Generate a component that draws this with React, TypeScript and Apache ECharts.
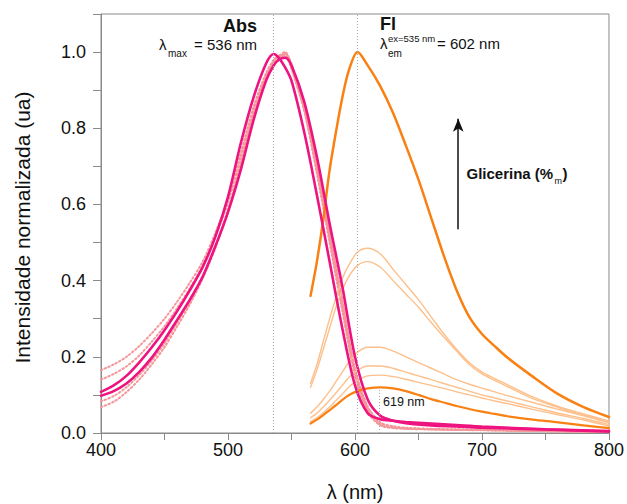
import React, { useEffect, useRef } from "react";
import * as echarts from "echarts";

// ---- Absorption spectra (normalized) ----
const absWavelengths = [400, 410, 420, 430, 440, 450, 460, 470, 480, 490, 500, 510, 520, 530, 536, 540, 545, 550, 560, 570, 580, 590, 600, 610, 620, 630, 640, 660, 680, 700, 750, 800];
const absSolidA = [0.108, 0.125, 0.15, 0.185, 0.225, 0.27, 0.32, 0.375, 0.435, 0.515, 0.62, 0.76, 0.88, 0.97, 0.995, 0.985, 0.96, 0.925, 0.79, 0.625, 0.45, 0.275, 0.125, 0.052, 0.036, 0.032, 0.029, 0.025, 0.021, 0.017, 0.01, 0.005];
const absSolidB = [0.098, 0.11, 0.13, 0.16, 0.198, 0.245, 0.297, 0.35, 0.41, 0.49, 0.58, 0.69, 0.82, 0.925, 0.965, 0.98, 0.985, 0.965, 0.87, 0.725, 0.55, 0.385, 0.2, 0.088, 0.045, 0.032, 0.026, 0.02, 0.017, 0.014, 0.009, 0.004];
const absDot1 = [0.165, 0.18, 0.2, 0.228, 0.262, 0.3, 0.345, 0.395, 0.45, 0.525, 0.615, 0.735, 0.855, 0.945, 0.98, 0.99, 0.995, 0.96, 0.85, 0.69, 0.51, 0.33, 0.16, 0.06, 0.022, 0.015, 0.012, 0.01, 0.009, 0.008, 0.005, 0.003];
const absDot2 = [0.14, 0.155, 0.175, 0.203, 0.24, 0.28, 0.328, 0.38, 0.44, 0.515, 0.605, 0.725, 0.85, 0.94, 0.975, 0.99, 0.99, 0.955, 0.845, 0.68, 0.5, 0.32, 0.15, 0.055, 0.02, 0.013, 0.011, 0.009, 0.008, 0.007, 0.005, 0.003];
const absDot3 = [0.083, 0.097, 0.12, 0.152, 0.19, 0.235, 0.29, 0.345, 0.41, 0.49, 0.585, 0.71, 0.84, 0.935, 0.975, 0.99, 1.0, 0.965, 0.855, 0.7, 0.52, 0.34, 0.165, 0.065, 0.025, 0.015, 0.012, 0.01, 0.009, 0.008, 0.005, 0.003];
const absDot4 = [0.068, 0.082, 0.107, 0.14, 0.18, 0.225, 0.28, 0.338, 0.405, 0.485, 0.58, 0.7, 0.83, 0.93, 0.97, 0.985, 0.995, 0.97, 0.86, 0.705, 0.53, 0.35, 0.17, 0.07, 0.028, 0.018, 0.014, 0.011, 0.009, 0.008, 0.005, 0.003];

// ---- Fluorescence spectra ----
const flWavelengths = [565, 570, 575, 580, 585, 590, 595, 602, 610, 620, 630, 640, 650, 660, 670, 680, 690, 700, 710, 720, 740, 760, 780, 800];
const flMain = [0.36, 0.45, 0.56, 0.69, 0.79, 0.88, 0.95, 1.0, 0.965, 0.91, 0.84, 0.755, 0.665, 0.565, 0.465, 0.375, 0.305, 0.26, 0.228, 0.198, 0.148, 0.102, 0.068, 0.042];
const flL1 = [0.13, 0.18, 0.24, 0.3, 0.355, 0.405, 0.44, 0.475, 0.485, 0.47, 0.43, 0.39, 0.35, 0.305, 0.26, 0.22, 0.185, 0.16, 0.143, 0.127, 0.095, 0.07, 0.05, 0.032];
const flL2 = [0.12, 0.165, 0.22, 0.275, 0.33, 0.375, 0.41, 0.44, 0.45, 0.435, 0.4, 0.365, 0.33, 0.29, 0.252, 0.215, 0.18, 0.155, 0.138, 0.122, 0.09, 0.067, 0.047, 0.03];
const flL3 = [0.052, 0.068, 0.088, 0.11, 0.135, 0.16, 0.185, 0.212, 0.225, 0.225, 0.215, 0.2, 0.185, 0.17, 0.155, 0.14, 0.128, 0.118, 0.108, 0.098, 0.08, 0.062, 0.045, 0.027];
const flL4 = [0.04, 0.052, 0.068, 0.086, 0.105, 0.125, 0.145, 0.165, 0.176, 0.176, 0.17, 0.16, 0.15, 0.14, 0.13, 0.12, 0.11, 0.1, 0.092, 0.084, 0.068, 0.052, 0.038, 0.022];
const flL5 = [0.03, 0.04, 0.053, 0.068, 0.085, 0.102, 0.12, 0.138, 0.15, 0.152, 0.148, 0.141, 0.133, 0.125, 0.117, 0.108, 0.1, 0.092, 0.084, 0.077, 0.062, 0.048, 0.034, 0.018];
const flLow = [0.025, 0.035, 0.047, 0.06, 0.073, 0.087, 0.099, 0.11, 0.117, 0.12, 0.117, 0.11, 0.1, 0.089, 0.08, 0.071, 0.063, 0.056, 0.05, 0.044, 0.035, 0.028, 0.02, 0.013];

// ---- Reference wavelengths ----
const absMax = 536;
const emMax = 602;
const lowPeak = 619;
const lowPeakValue = 0.118;
const arrowX = 681.3;
const arrowFrom = 0.535;
const arrowTo = 0.825;

const FONT = "'Liberation Sans', Arial, Helvetica, sans-serif";
const MAGENTA = "#EE1480";
const ORANGE = "#F98012";
const PEACH = "#FDC08C";
const SALMON = "#F5979A";
const FRAME = "#8a8a8a";

const zip = (xs: number[], ys: number[]) => xs.map((x, i) => [x, ys[i]]);

function lineSeries(name: string, xs: number[], ys: number[], color: string, width: number, type: any = "solid", z = 2): any {
  return {
    name,
    type: "line",
    data: zip(xs, ys),
    showSymbol: false,
    symbol: "none",
    smooth: 0.3,
    z,
    silent: true,
    lineStyle: { color, width, type, cap: "round" },
  };
}

export default function App() {
  const ref = useRef<HTMLDivElement>(null);
  useEffect(() => {
    const chart = echarts.init(ref.current!, null, { renderer: "svg" });
    const txt = (text: string, x: number, y: number, size: number, opts: any = {}) => ({
      type: "text",
      x,
      y,
      rotation: opts.rotation || 0,
      style: {
        text,
        fontFamily: FONT,
        fontSize: size,
        fontWeight: opts.bold ? "bold" : "normal",
        fill: "#111",
        align: opts.align || "left",
        verticalAlign: "middle",
      },
    });
    const dot1 = lineSeries("abs-d1", absWavelengths, absDot1, SALMON, 2, [1.5, 2.5], 1);
    dot1.markLine = {
      silent: true,
      symbol: ["none", "none"],
      label: { show: false },
      lineStyle: { color: "#a8a8a8", width: 1, type: [1, 2] },
      data: [
        { xAxis: absMax },
        { xAxis: emMax },
        [{ coord: [lowPeak, 0] }, { coord: [lowPeak, lowPeakValue] }],
      ],
    };
    const arrowHolder: any = {
      name: "arrow",
      type: "line",
      data: [],
      markLine: {
        silent: true,
        symbol: ["none", "arrow"],
        symbolSize: [8, 13],
        label: { show: false },
        lineStyle: { color: "#111", width: 1.5, type: "solid" },
        data: [[{ coord: [arrowX, arrowFrom] }, { coord: [arrowX, arrowTo] }]],
      },
    };
    const option: any = {
      animation: false,
      backgroundColor: "#fff",
      grid: { left: 101, top: 14, right: 18, bottom: 71, show: true, borderColor: FRAME, borderWidth: 1 },
      xAxis: {
        type: "value",
        min: 400,
        max: 800,
        interval: 50,
        axisLine: { show: true, lineStyle: { color: FRAME } },
        axisTick: { show: true, length: 7, lineStyle: { color: FRAME } },
        splitLine: { show: false },
        axisLabel: {
          margin: 8,
          fontFamily: FONT,
          fontSize: 18,
          color: "#111",
          formatter: (v: number) => (Math.round(v) % 100 === 0 ? String(Math.round(v)) : ""),
        },
      },
      yAxis: {
        type: "value",
        min: 0,
        max: 1.1,
        interval: 0.1,
        axisLine: { show: true, lineStyle: { color: FRAME } },
        axisTick: { show: true, length: 8, lineStyle: { color: FRAME } },
        splitLine: { show: false },
        axisLabel: {
          margin: 15,
          fontFamily: FONT,
          fontSize: 18,
          color: "#111",
          formatter: (v: number) => {
            const t = Math.round(v * 10);
            return t % 2 === 0 && t <= 10 ? (t / 10).toFixed(1) : "";
          },
        },
      },
      series: [
        dot1,
        lineSeries("abs-d2", absWavelengths, absDot2, SALMON, 2, [1.5, 2.5], 1),
        lineSeries("abs-d3", absWavelengths, absDot3, SALMON, 2, [1.5, 2.5], 1),
        lineSeries("abs-d4", absWavelengths, absDot4, SALMON, 2, [1.5, 2.5], 1),
        lineSeries("fl-l1", flWavelengths, flL1, PEACH, 1.4),
        lineSeries("fl-l2", flWavelengths, flL2, PEACH, 1.4),
        lineSeries("fl-l3", flWavelengths, flL3, PEACH, 1.4),
        lineSeries("fl-l4", flWavelengths, flL4, PEACH, 1.4),
        lineSeries("fl-l5", flWavelengths, flL5, PEACH, 1.4),
        lineSeries("fl-low", flWavelengths, flLow, ORANGE, 2.2, "solid", 3),
        lineSeries("fl-main", flWavelengths, flMain, ORANGE, 2.5, "solid", 3),
        lineSeries("abs-b", absWavelengths, absSolidB, MAGENTA, 2.6, "solid", 4),
        lineSeries("abs-a", absWavelengths, absSolidA, MAGENTA, 2.6, "solid", 4),
        arrowHolder,
      ],
      graphic: [
        txt("Abs", 257, 26, 18, { bold: true, align: "right" }),
        txt("λ", 159, 44.5, 15),
        txt("max", 168, 53, 10),
        txt("= 536 nm", 257, 44.5, 15, { align: "right" }),
        txt("Fl", 380, 24, 18, { bold: true }),
        txt("λ", 380, 43, 15),
        txt("ex=535 nm", 388, 38, 9.5),
        txt("em", 388, 53, 10),
        txt("= 602 nm", 437, 43, 15),
        txt("Glicerina (%", 466.5, 173, 15, { bold: true }),
        txt("m", 554.5, 180.5, 9),
        txt(")", 562.5, 173, 15, { bold: true }),
        txt("619 nm", 383, 402, 12.5),
        txt("Intensidade normalizada (ua)", 22.5, 227.5, 21, { rotation: Math.PI / 2, align: "center" }),
        txt("λ (nm)", 355, 492, 20, { align: "center" }),
      ],
    };
    chart.setOption(option);
    return () => chart.dispose();
  }, []);
  return (
    <div
      ref={ref}
      style={{ position: "fixed", left: 0, top: 0, width: 627, height: 504, background: "#fff" }}
    />
  );
}
